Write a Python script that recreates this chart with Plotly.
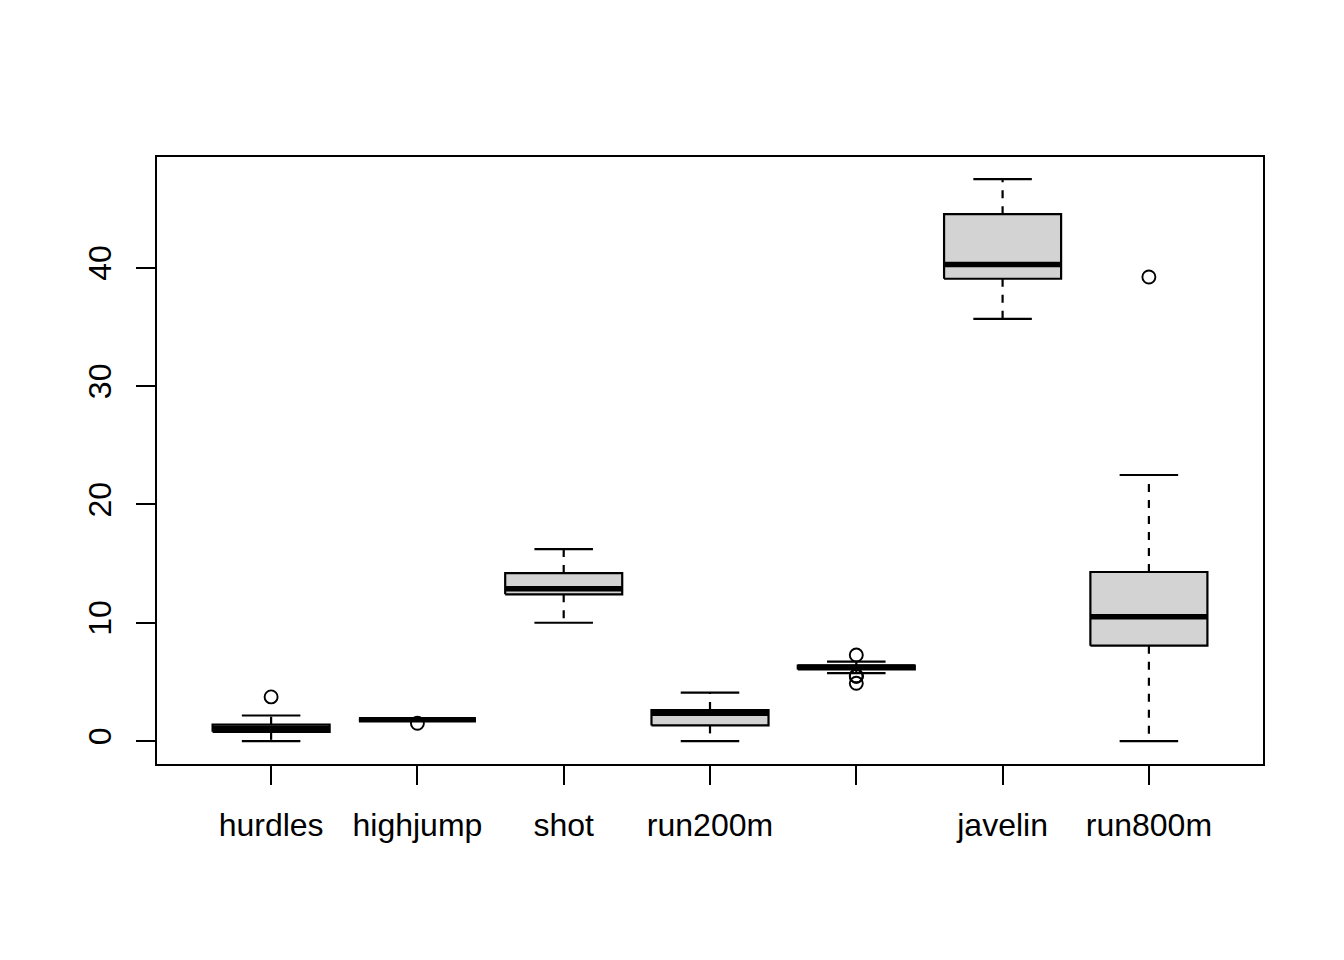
import plotly.graph_objects as go

categories = ["hurdles", "highjump", "shot", "run200m", "longjump", "javelin", "run800m"]
tick_labels = ["hurdles", "highjump", "shot", "run200m", "", "javelin", "run800m"]
lower_whisker = [0.00, 1.71, 10.00, 0.00, 5.75, 35.68, 0.00]
q1 = [0.78, 1.77, 12.40, 1.32, 6.05, 39.08, 8.06]
median = [1.06, 1.80, 12.88, 2.35, 6.25, 40.28, 10.51]
q3 = [1.38, 1.83, 14.20, 2.62, 6.37, 44.54, 14.29]
upper_whisker = [2.16, 1.86, 16.23, 4.10, 6.71, 47.50, 22.49]
outliers = [[3.73], [1.50], [], [], [4.88, 5.47, 5.50, 5.50, 7.27], [], [39.23]]

HALF_BOX = 0.4
HALF_CAP = 0.2
LINE_W = 2.2

fig = go.Figure()

wx, wy, cx, cy, bx, by, mx, my, ox, oy = [], [], [], [], [], [], [], [], [], []
for i, name in enumerate(categories):
    p = i + 1
    # whiskers (dashed)
    wx += [p, p, None, p, p, None]
    wy += [q3[i], upper_whisker[i], None, q1[i], lower_whisker[i], None]
    # caps
    cx += [p - HALF_CAP, p + HALF_CAP, None, p - HALF_CAP, p + HALF_CAP, None]
    cy += [upper_whisker[i], upper_whisker[i], None, lower_whisker[i], lower_whisker[i], None]
    # box
    bx += [p - HALF_BOX, p + HALF_BOX, p + HALF_BOX, p - HALF_BOX, p - HALF_BOX, None]
    by += [q1[i], q1[i], q3[i], q3[i], q1[i], None]
    # median
    mx += [p - HALF_BOX, p + HALF_BOX, None]
    my += [median[i], median[i], None]
    for v in outliers[i]:
        ox.append(p)
        oy.append(v)

fig.add_trace(go.Scatter(x=wx, y=wy, mode="lines",
                         line=dict(color="black", width=LINE_W, dash="8px,8px"),
                         hoverinfo="skip", showlegend=False))
fig.add_trace(go.Scatter(x=cx, y=cy, mode="lines",
                         line=dict(color="black", width=LINE_W),
                         hoverinfo="skip", showlegend=False))
fig.add_trace(go.Scatter(x=bx, y=by, mode="lines", fill="toself",
                         fillcolor="#D3D3D3",
                         line=dict(color="black", width=LINE_W),
                         hoverinfo="skip", showlegend=False))
fig.add_trace(go.Scatter(x=mx, y=my, mode="lines",
                         line=dict(color="black", width=5.5),
                         hoverinfo="skip", showlegend=False))
fig.add_trace(go.Scatter(x=ox, y=oy, mode="markers",
                         marker=dict(symbol="circle-open", size=13, color="black",
                                     line=dict(width=1.9, color="black")),
                         hoverinfo="skip", showlegend=False))

font = dict(family="Liberation Sans, Arial, sans-serif", size=32, color="black")

fig.update_layout(
    width=1344, height=960,
    margin=dict(l=149, r=89, t=149, b=204),
    paper_bgcolor="white", plot_bgcolor="white",
    font=font,
    showlegend=False,
    xaxis=dict(
        range=[0.22, 7.78],
        tickmode="array",
        tickvals=list(range(1, len(categories) + 1)),
        ticktext=tick_labels,
        ticks="outside", ticklen=19, tickwidth=LINE_W, tickcolor="black",
        showline=True, linecolor="black", linewidth=LINE_W, mirror=True,
        showgrid=False, zeroline=False,
        tickfont=font,
        ticklabelstandoff=12,
    ),
    yaxis=dict(
        range=[-1.94, 49.37],
        tickmode="array",
        tickvals=[0, 10, 20, 30, 40],
        ticktext=["0", "10", "20", "30", "40"],
        tickangle=-90,
        ticks="outside", ticklen=19, tickwidth=LINE_W, tickcolor="black",
        showline=True, linecolor="black", linewidth=LINE_W, mirror=True,
        showgrid=False, zeroline=False,
        tickfont=font,
        ticklabelstandoff=12,
    ),
)

fig.write_html("out.html")
